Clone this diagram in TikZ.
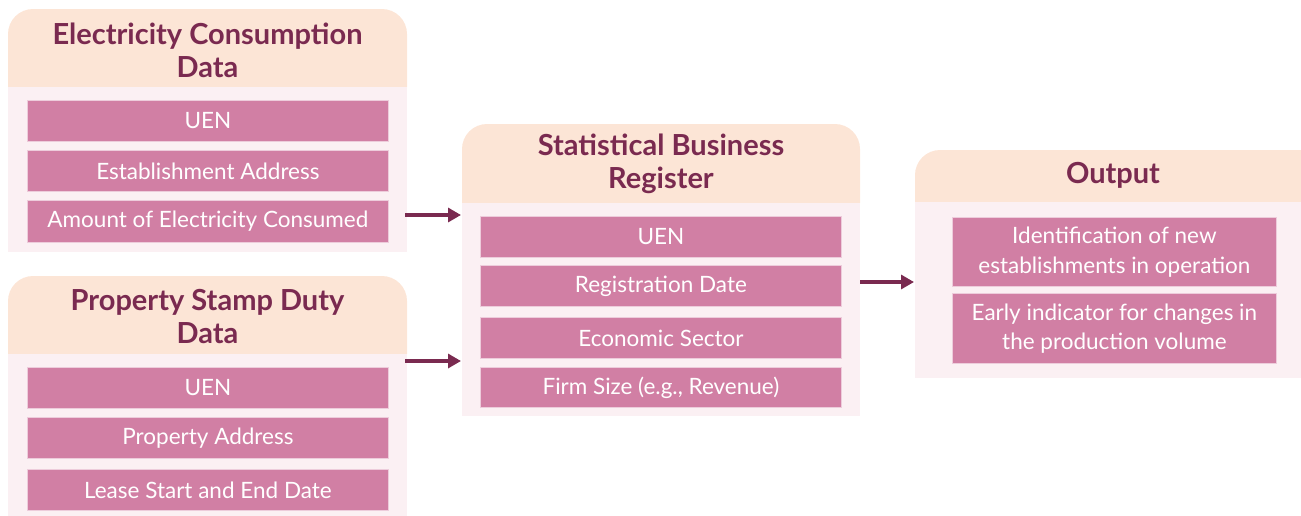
\documentclass[tikz,border=0pt]{standalone}
\usepackage{fontspec}
\setmainfont{Lato}
\usetikzlibrary{arrows.meta}
\definecolor{hdr}{HTML}{FCE5D6}
\definecolor{bdy}{HTML}{FBF0F3}
\definecolor{itm}{HTML}{D17FA4}
\definecolor{ttl}{HTML}{7A2A50}
\tikzset{
  hdrfill/.style={fill=hdr},
  bodybox/.style={fill=bdy, inner sep=0pt, anchor=north west},
  itembox/.style={fill=itm, draw=itm!40!white, line width=0.8pt, inner sep=0pt, anchor=north west,
     text=white, font=\fontsize{22.5}{29.5}\selectfont, align=center},
  titletext/.style={text=ttl, font=\fontsize{29}{33}\selectfont\bfseries, align=center},
  arr/.style={draw=ttl, line width=3.2pt, -{Triangle[length=13pt,width=14pt]}},
}
\begin{document}
\begin{tikzpicture}[x=1pt,y=-1pt]
\useasboundingbox (0,0) rectangle (1301,515);
\clip (0,0) rectangle (1301,515);
% ---- Card 1: Electricity
\fill[hdrfill] (8,87) [rounded corners=25pt] -- (8,9) -- (407,9) [sharp corners] -- (407,87) -- cycle;
\node[bodybox, minimum width=399pt, minimum height=165pt] (b1) at (8,87) {};
\node[titletext] (t1) at (207.5,50) {Electricity Consumption\\Data};
\node[itembox, minimum width=361pt, minimum height=41pt] (e1) at (27,100) {UEN};
\node[itembox, minimum width=361pt, minimum height=41pt] (e2) at (27,150) {Establishment Address};
\node[itembox, minimum width=361pt, minimum height=42pt] (e3) at (27,200) {Amount of Electricity Consumed};
% ---- Card 2: Property
\fill[hdrfill] (8,354) [rounded corners=25pt] -- (8,276) -- (407,276) [sharp corners] -- (407,354) -- cycle;
\node[bodybox, minimum width=399pt, minimum height=170pt] (b2) at (8,354) {};
\node[titletext] (t2) at (207.5,317) {Property Stamp Duty\\Data};
\node[itembox, minimum width=361pt, minimum height=41pt] (p1) at (27,367) {UEN};
\node[itembox, minimum width=361pt, minimum height=41pt] (p2) at (27,417) {Property Address};
\node[itembox, minimum width=361pt, minimum height=41pt] (p3) at (27,469) {Lease Start and End Date};
% ---- Card 3: SBR
\fill[hdrfill] (462,203) [rounded corners=25pt] -- (462,124) -- (860,124) [sharp corners] -- (860,203) -- cycle;
\node[bodybox, minimum width=398pt, minimum height=213pt] (b3) at (462,203) {};
\node[titletext] (t3) at (661,164) {Statistical Business\\Register};
\node[itembox, minimum width=361pt, minimum height=41pt] (s1) at (480,216) {UEN};
\node[itembox, minimum width=361pt, minimum height=41pt] (s2) at (480,265) {Registration Date};
\node[itembox, minimum width=361pt, minimum height=41pt] (s3) at (480,317) {Economic Sector};
\node[itembox, minimum width=361pt, minimum height=40pt] (s4) at (480,367) {Firm Size (e.g., Revenue)};
% ---- Card 4: Output
\fill[hdrfill] (915,202) [rounded corners=25pt] -- (915,150) -- (1325,150) [sharp corners] -- (1325,202) -- cycle;
\node[bodybox, minimum width=410pt, minimum height=176pt] (b4) at (915,202) {};
\node[titletext] (t4) at (1113,175) {Output};
\node[itembox, minimum width=324pt, minimum height=69pt] (o1) at (952,217) {Identification of new\\establishments in operation};
\node[itembox, minimum width=324pt, minimum height=70pt] (o2) at (952,293) {Early indicator for changes in\\the production volume};
% ---- Arrows
\coordinate (y1) at (0,215);
\coordinate (y2) at (0,361);
\coordinate (y3) at (0,282);
\draw[arr] ([xshift=-2pt]b1.east |- y1) -- ([xshift=-1pt]b3.west |- y1);
\draw[arr] ([xshift=-2pt]b2.east |- y2) -- ([xshift=-1pt]b3.west |- y2);
\draw[arr] (b3.east |- y3) -- ([xshift=-1pt]b4.west |- y3);
\end{tikzpicture}
\end{document}
